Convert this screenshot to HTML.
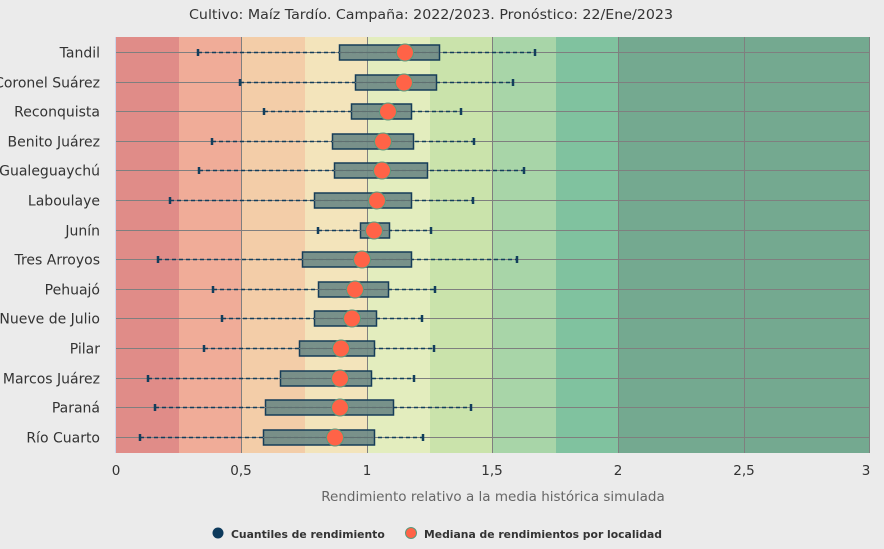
<!DOCTYPE html>
<html><head><meta charset="utf-8"><style>
html,body{margin:0;padding:0;background:#ebebeb;}
svg{display:block;font-family:"DejaVu Sans","Liberation Sans",sans-serif;}
.g{stroke:#7f7f7f;stroke-width:1}
.w{stroke:#123e5c;stroke-width:1.5;stroke-dasharray:4,3}
.c{stroke:#123e5c;stroke-width:2.5}
.b{fill:#6f8a86;fill-opacity:0.92;stroke:#163d58;stroke-width:1.5}
.m{stroke:#5f6f70;stroke-width:1}
.o{fill:#ff6347;stroke:#5a9a7e;stroke-width:1}
.l{font-size:14px;fill:#333;text-anchor:end}
</style></head><body>
<svg width="884" height="549" viewBox="0 0 884 549" xmlns="http://www.w3.org/2000/svg">
<rect width="884" height="549" fill="#ebebeb"/>
<text x="431" y="19" text-anchor="middle" font-size="13.5" fill="#333" textLength="484" lengthAdjust="spacingAndGlyphs">Cultivo: Maíz Tardío. Campaña: 2022/2023. Pronóstico: 22/Ene/2023</text>
<rect x="116" y="37" width="63" height="416" fill="#e08c88"/>
<rect x="179" y="37" width="63" height="416" fill="#f0ac98"/>
<rect x="242" y="37" width="63" height="416" fill="#f3cda8"/>
<rect x="305" y="37" width="62" height="416" fill="#f3e4bb"/>
<rect x="367" y="37" width="63" height="416" fill="#e3edbe"/>
<rect x="430" y="37" width="63" height="416" fill="#cae3ab"/>
<rect x="493" y="37" width="63" height="416" fill="#a8d5a8"/>
<rect x="556" y="37" width="62" height="416" fill="#80c29f"/>
<rect x="618" y="37" width="252" height="416" fill="#74a990"/>
<line x1="115.5" y1="37" x2="115.5" y2="453" stroke="#ccd6eb"/>
<g class="g">
<line x1="241.5" y1="37" x2="241.5" y2="453"/>
<line x1="367.5" y1="37" x2="367.5" y2="453"/>
<line x1="492.5" y1="37" x2="492.5" y2="453"/>
<line x1="618.5" y1="37" x2="618.5" y2="453"/>
<line x1="744.5" y1="37" x2="744.5" y2="453"/>
<line x1="869.5" y1="37" x2="869.5" y2="453"/>
</g>

<g transform="translate(0,52.5)"><line class="g" x1="116" x2="870" y1="0" y2="0"/><line class="w" x1="198" x2="535" y1="0" y2="0"/><line class="c" x1="198" x2="198" y1="-3.5" y2="3.5"/><line class="c" x1="535" x2="535" y1="-3.5" y2="3.5"/><rect class="b" x="339.5" y="-7.5" width="100" height="15"/><line class="m" x1="339" x2="439" y1="0" y2="0"/><circle class="o" cx="405" cy="0" r="8.5"/><text class="l" x="100" y="5">Tandil</text></g>
<g transform="translate(0,82.5)"><line class="g" x1="116" x2="870" y1="0" y2="0"/><line class="w" x1="240" x2="513" y1="0" y2="0"/><line class="c" x1="240" x2="240" y1="-3.5" y2="3.5"/><line class="c" x1="513" x2="513" y1="-3.5" y2="3.5"/><rect class="b" x="355.5" y="-7.5" width="81" height="15"/><line class="m" x1="355" x2="436" y1="0" y2="0"/><circle class="o" cx="404" cy="0" r="8.5"/><text class="l" x="100" y="5">Coronel Suárez</text></g>
<g transform="translate(0,111.5)"><line class="g" x1="116" x2="870" y1="0" y2="0"/><line class="w" x1="264" x2="461" y1="0" y2="0"/><line class="c" x1="264" x2="264" y1="-3.5" y2="3.5"/><line class="c" x1="461" x2="461" y1="-3.5" y2="3.5"/><rect class="b" x="351.5" y="-7.5" width="60" height="15"/><line class="m" x1="351" x2="411" y1="0" y2="0"/><circle class="o" cx="388" cy="0" r="8.5"/><text class="l" x="100" y="5">Reconquista</text></g>
<g transform="translate(0,141.5)"><line class="g" x1="116" x2="870" y1="0" y2="0"/><line class="w" x1="212" x2="474" y1="0" y2="0"/><line class="c" x1="212" x2="212" y1="-3.5" y2="3.5"/><line class="c" x1="474" x2="474" y1="-3.5" y2="3.5"/><rect class="b" x="332.5" y="-7.5" width="81" height="15"/><line class="m" x1="332" x2="413" y1="0" y2="0"/><circle class="o" cx="383" cy="0" r="8.5"/><text class="l" x="100" y="5">Benito Juárez</text></g>
<g transform="translate(0,170.5)"><line class="g" x1="116" x2="870" y1="0" y2="0"/><line class="w" x1="199" x2="524" y1="0" y2="0"/><line class="c" x1="199" x2="199" y1="-3.5" y2="3.5"/><line class="c" x1="524" x2="524" y1="-3.5" y2="3.5"/><rect class="b" x="334.5" y="-7.5" width="93" height="15"/><line class="m" x1="334" x2="427" y1="0" y2="0"/><circle class="o" cx="382" cy="0" r="8.5"/><text class="l" x="100" y="5">Gualeguaychú</text></g>
<g transform="translate(0,200.5)"><line class="g" x1="116" x2="870" y1="0" y2="0"/><line class="w" x1="170" x2="473" y1="0" y2="0"/><line class="c" x1="170" x2="170" y1="-3.5" y2="3.5"/><line class="c" x1="473" x2="473" y1="-3.5" y2="3.5"/><rect class="b" x="314.5" y="-7.5" width="97" height="15"/><line class="m" x1="314" x2="411" y1="0" y2="0"/><circle class="o" cx="377" cy="0" r="8.5"/><text class="l" x="100" y="5">Laboulaye</text></g>
<g transform="translate(0,230.5)"><line class="g" x1="116" x2="870" y1="0" y2="0"/><line class="w" x1="318" x2="431" y1="0" y2="0"/><line class="c" x1="318" x2="318" y1="-3.5" y2="3.5"/><line class="c" x1="431" x2="431" y1="-3.5" y2="3.5"/><rect class="b" x="360.5" y="-7.5" width="29" height="15"/><line class="m" x1="360" x2="389" y1="0" y2="0"/><circle class="o" cx="374" cy="0" r="8.5"/><text class="l" x="100" y="5">Junín</text></g>
<g transform="translate(0,259.5)"><line class="g" x1="116" x2="870" y1="0" y2="0"/><line class="w" x1="158" x2="517" y1="0" y2="0"/><line class="c" x1="158" x2="158" y1="-3.5" y2="3.5"/><line class="c" x1="517" x2="517" y1="-3.5" y2="3.5"/><rect class="b" x="302.5" y="-7.5" width="109" height="15"/><line class="m" x1="302" x2="411" y1="0" y2="0"/><circle class="o" cx="362" cy="0" r="8.5"/><text class="l" x="100" y="5">Tres Arroyos</text></g>
<g transform="translate(0,289.5)"><line class="g" x1="116" x2="870" y1="0" y2="0"/><line class="w" x1="213" x2="435" y1="0" y2="0"/><line class="c" x1="213" x2="213" y1="-3.5" y2="3.5"/><line class="c" x1="435" x2="435" y1="-3.5" y2="3.5"/><rect class="b" x="318.5" y="-7.5" width="70" height="15"/><line class="m" x1="318" x2="388" y1="0" y2="0"/><circle class="o" cx="355" cy="0" r="8.5"/><text class="l" x="100" y="5">Pehuajó</text></g>
<g transform="translate(0,318.5)"><line class="g" x1="116" x2="870" y1="0" y2="0"/><line class="w" x1="222" x2="422" y1="0" y2="0"/><line class="c" x1="222" x2="222" y1="-3.5" y2="3.5"/><line class="c" x1="422" x2="422" y1="-3.5" y2="3.5"/><rect class="b" x="314.5" y="-7.5" width="62" height="15"/><line class="m" x1="314" x2="376" y1="0" y2="0"/><circle class="o" cx="352" cy="0" r="8.5"/><text class="l" x="100" y="5">Nueve de Julio</text></g>
<g transform="translate(0,348.5)"><line class="g" x1="116" x2="870" y1="0" y2="0"/><line class="w" x1="204" x2="434" y1="0" y2="0"/><line class="c" x1="204" x2="204" y1="-3.5" y2="3.5"/><line class="c" x1="434" x2="434" y1="-3.5" y2="3.5"/><rect class="b" x="299.5" y="-7.5" width="75" height="15"/><line class="m" x1="299" x2="374" y1="0" y2="0"/><circle class="o" cx="341" cy="0" r="8.5"/><text class="l" x="100" y="5">Pilar</text></g>
<g transform="translate(0,378.5)"><line class="g" x1="116" x2="870" y1="0" y2="0"/><line class="w" x1="148" x2="414" y1="0" y2="0"/><line class="c" x1="148" x2="148" y1="-3.5" y2="3.5"/><line class="c" x1="414" x2="414" y1="-3.5" y2="3.5"/><rect class="b" x="280.5" y="-7.5" width="91" height="15"/><line class="m" x1="280" x2="371" y1="0" y2="0"/><circle class="o" cx="340" cy="0" r="8.5"/><text class="l" x="100" y="5">Marcos Juárez</text></g>
<g transform="translate(0,407.5)"><line class="g" x1="116" x2="870" y1="0" y2="0"/><line class="w" x1="155" x2="471" y1="0" y2="0"/><line class="c" x1="155" x2="155" y1="-3.5" y2="3.5"/><line class="c" x1="471" x2="471" y1="-3.5" y2="3.5"/><rect class="b" x="265.5" y="-7.5" width="128" height="15"/><line class="m" x1="265" x2="393" y1="0" y2="0"/><circle class="o" cx="340" cy="0" r="8.5"/><text class="l" x="100" y="5">Paraná</text></g>
<g transform="translate(0,437.5)"><line class="g" x1="116" x2="870" y1="0" y2="0"/><line class="w" x1="140" x2="423" y1="0" y2="0"/><line class="c" x1="140" x2="140" y1="-3.5" y2="3.5"/><line class="c" x1="423" x2="423" y1="-3.5" y2="3.5"/><rect class="b" x="263.5" y="-7.5" width="111" height="15"/><line class="m" x1="263" x2="374" y1="0" y2="0"/><circle class="o" cx="335" cy="0" r="8.5"/><text class="l" x="100" y="5">Río Cuarto</text></g>

<g font-size="13.5" fill="#333" text-anchor="middle">
<text x="116" y="475">0</text><text x="241" y="475">0,5</text><text x="367" y="475">1</text><text x="492" y="475">1,5</text><text x="618" y="475">2</text><text x="744" y="475">2,5</text><text x="866" y="475">3</text>
</g>
<text x="493" y="501" text-anchor="middle" font-size="13.5" fill="#666">Rendimiento relativo a la media histórica simulada</text>
<circle cx="218" cy="533" r="5.5" fill="#0d3a5c"/>
<text x="231" y="538" font-size="10.8" font-weight="bold" fill="#333">Cuantiles de rendimiento</text>
<circle cx="411" cy="533" r="5.5" fill="#ff6347" stroke="#5a9a7e" stroke-width="1"/>
<text x="424" y="538" font-size="10.8" font-weight="bold" fill="#333">Mediana de rendimientos por localidad</text>
</svg>
</body></html>
